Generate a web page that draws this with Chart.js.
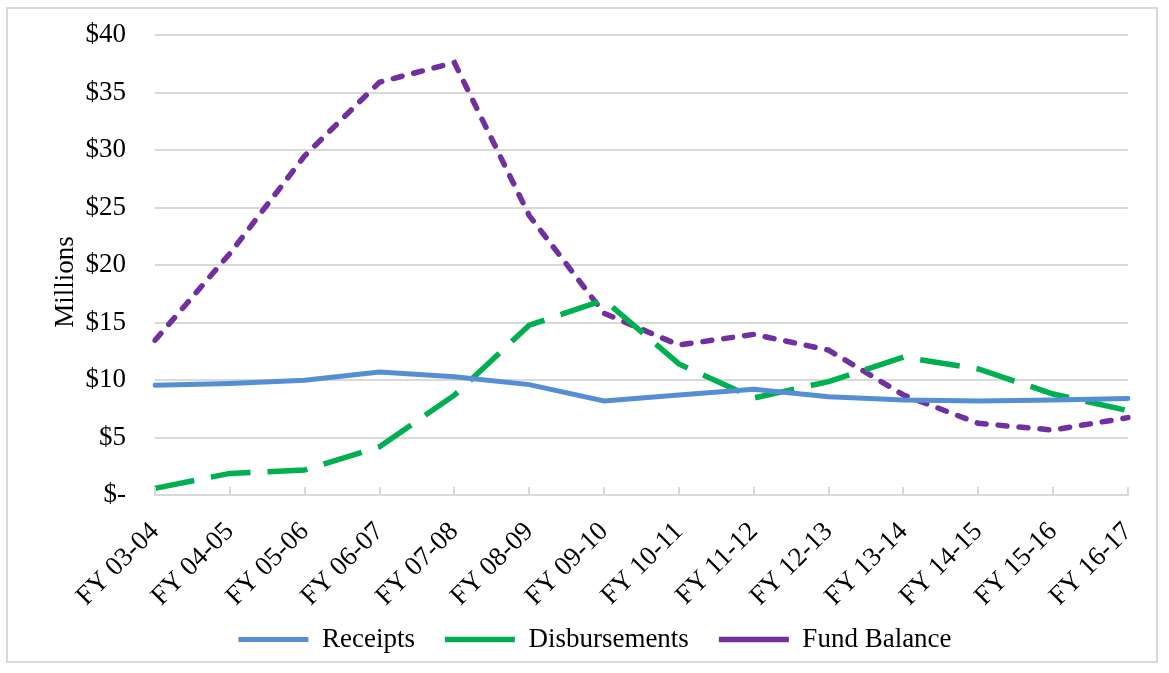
<!DOCTYPE html>
<html>
<head>
<meta charset="utf-8">
<script src="https://cdn.jsdelivr.net/npm/chart.js@4"></script>
<style>
  body { margin: 0; background: #fff; }
  #wrap { position: relative; width: 1169px; height: 673px; }
  #frame {
    position: absolute; left: 6px; top: 7px; width: 1152px; height: 656px;
    border: 2px solid #d9d9d9; box-sizing: border-box;
  }
  canvas { position: absolute; left: 0; top: 0; }
</style>
</head>
<body>
<div id="wrap">
  <div id="frame"></div>
  <canvas id="chart" width="1169" height="673"></canvas>
</div>
<script>
const categories = [
  "FY 03-04", "FY 04-05", "FY 05-06", "FY 06-07", "FY 07-08", "FY 08-09", "FY 09-10",
  "FY 10-11", "FY 11-12", "FY 12-13", "FY 13-14", "FY 14-15", "FY 15-16", "FY 16-17"
];
const receipts = [9.55, 9.7, 9.98, 10.7, 10.28, 9.6, 8.17, 8.7, 9.2, 8.55, 8.26, 8.17, 8.26, 8.4];
const disbursements = [0.58, 1.88, 2.17, 4.2, 8.68, 14.76, 16.96, 11.4, 8.43, 9.86, 12.0, 10.96, 8.78, 7.34];
const fundBalance = [13.45, 21.0, 29.5, 35.9, 37.6, 24.3, 15.8, 13.04, 13.97, 12.6, 8.7, 6.23, 5.65, 6.73];
const yTickLabels = ["$-", "$5", "$10", "$15", "$20", "$25", "$30", "$35", "$40"];
const yTitle = "Millions";

const serif = "'Liberation Serif', 'Times New Roman', serif";

// short tick marks standing up from the x axis, like the original
const innerTicks = {
  id: "innerTicks",
  afterDatasetsDraw(chart) {
    const x = chart.scales.x;
    const ctx = chart.ctx;
    const bottom = chart.chartArea.bottom;
    ctx.save();
    ctx.strokeStyle = "#d9d9d9";
    ctx.lineWidth = 2;
    ctx.beginPath();
    categories.forEach((c, i) => {
      const px = Math.round(x.getPixelForValue(i));
      ctx.moveTo(px, bottom);
      ctx.lineTo(px, bottom - 8);
    });
    ctx.stroke();
    ctx.restore();
  }
};

// axis title sits a bit below the middle in the original
const sideTitle = {
  id: "sideTitle",
  afterDraw(chart) {
    const ctx = chart.ctx;
    const area = chart.chartArea;
    ctx.save();
    ctx.translate(66, (area.top + area.bottom) / 2 + 17);
    ctx.rotate(-Math.PI / 2);
    ctx.font = "27px " + serif;
    ctx.fillStyle = "#000";
    ctx.textAlign = "center";
    ctx.textBaseline = "middle";
    ctx.fillText(yTitle, 0, 0);
    ctx.restore();
  }
};

// legend a little right of centre; let the slanted labels hang past the axis box
const layoutTweaks = {
  id: "layoutTweaks",
  afterLayout(chart) {
    chart.legend.left += 31;
    chart.legend.right += 31;
    chart.scales.x.bottom += 40;
  }
};

const ctx = document.getElementById("chart").getContext("2d");
new Chart(ctx, {
  type: "line",
  data: {
    labels: categories,
    datasets: [
      {
        label: "Receipts",
        data: receipts,
        borderColor: "#558ED5",
        backgroundColor: "#558ED5",
        borderWidth: 5,
        borderCapStyle: "round",
        pointRadius: 0,
        tension: 0
      },
      {
        label: "Disbursements",
        data: disbursements,
        borderColor: "#00B050",
        backgroundColor: "#00B050",
        borderWidth: 5.5,
        borderDash: [40, 17],
        borderCapStyle: "butt",
        pointRadius: 0,
        tension: 0
      },
      {
        label: "Fund Balance",
        data: fundBalance,
        borderColor: "#7030A0",
        backgroundColor: "#7030A0",
        borderWidth: 5.5,
        borderDash: [9, 12],
        borderCapStyle: "round",
        pointRadius: 0,
        tension: 0
      }
    ]
  },
  options: {
    responsive: false,
    animation: false,
    layout: { padding: { top: 35, right: 41, left: 0, bottom: 10 } },
    plugins: {
      tooltip: { enabled: false },
      legend: {
        position: "bottom",
        labels: {
          usePointStyle: true,
          pointStyle: "line",
          pointStyleWidth: 70,
          padding: 30,
          color: "#000",
          font: { family: serif, size: 27 }
        }
      }
    },
    scales: {
      x: {
        grid: {
          display: true,
          drawOnChartArea: false,
          drawTicks: true,
          tickLength: 21,
          tickColor: "rgba(0,0,0,0)"
        },
        border: { display: true, color: "#d9d9d9", width: 2 },
        ticks: {
          color: "#000",
          font: { family: serif, size: 27 },
          minRotation: 45,
          maxRotation: 45,
          padding: 0,
          autoSkip: false
        },
        afterFit(scale) { scale.height = 101; }
      },
      y: {
        min: 0,
        max: 40,
        grid: {
          color: "#d9d9d9",
          lineWidth: 2,
          drawTicks: true,
          tickLength: 29,
          tickColor: "rgba(0,0,0,0)"
        },
        border: { display: false },
        ticks: {
          stepSize: 5,
          color: "#000",
          padding: 0,
          font: { family: serif, size: 27 },
          callback: (v, i) => yTickLabels[i]
        },
        afterFit(scale) { scale.width = 155; }
      }
    }
  },
  plugins: [innerTicks, sideTitle, layoutTweaks]
});
</script>
</body>
</html>
